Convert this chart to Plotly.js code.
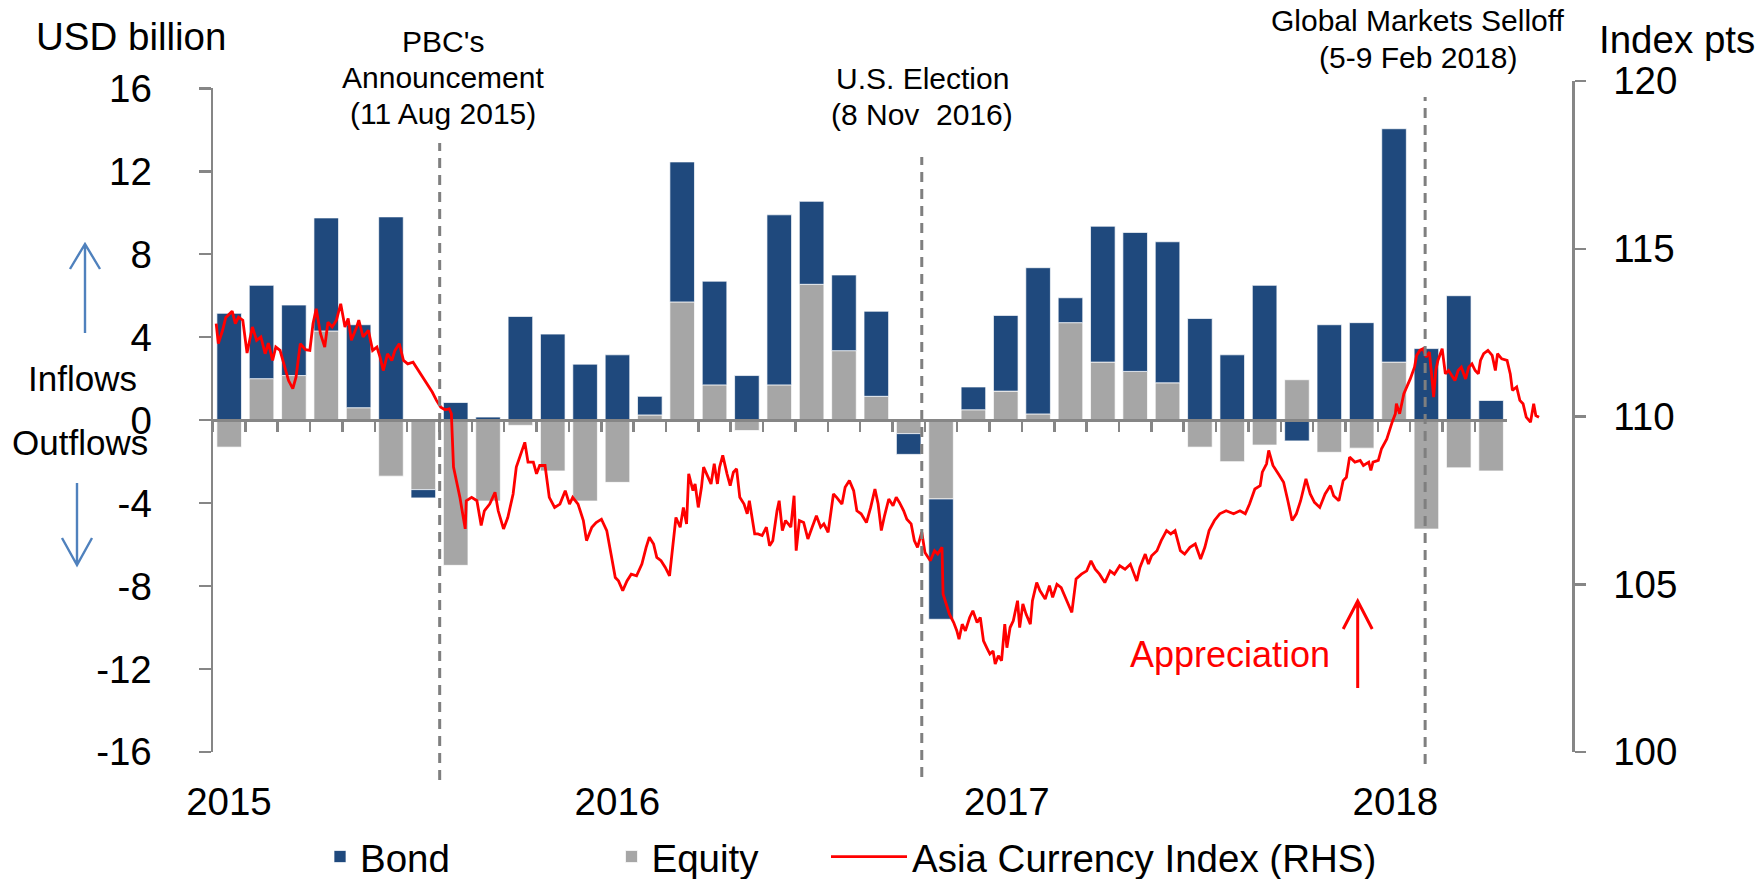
<!DOCTYPE html>
<html><head><meta charset="utf-8">
<script src="https://cdn.plot.ly/plotly-3.0.1.min.js"></script>
<style>html,body{margin:0;padding:0;background:#fff}#chart{width:1763px;height:879px}</style>
</head><body><div id="chart"></div>
<script>
// ---------- data ----------
const months = ['Jan-15','Feb-15','Mar-15','Apr-15','May-15','Jun-15','Jul-15','Aug-15','Sep-15','Oct-15','Nov-15','Dec-15',
  'Jan-16','Feb-16','Mar-16','Apr-16','May-16','Jun-16','Jul-16','Aug-16','Sep-16','Oct-16','Nov-16','Dec-16',
  'Jan-17','Feb-17','Mar-17','Apr-17','May-17','Jun-17','Jul-17','Aug-17','Sep-17','Oct-17','Nov-17','Dec-17',
  'Jan-18','Feb-18','Mar-18','Apr-18'];
const equity = [-1.3, 2.0, 2.15, 4.3, 0.6, -2.7, -3.35, -7.0, -3.9, -0.25, -2.45, -3.9,
  -3.0, 0.25, 5.7, 1.7, -0.5, 1.7, 6.55, 3.35, 1.15, -0.65, -3.8, 0.5,
  1.4, 0.3, 4.7, 2.8, 2.35, 1.8, -1.3, -2.0, -1.2, 1.95, -1.55, -1.35,
  2.8, -5.25, -2.3, -2.45];
const bond = [5.15, 4.5, 3.4, 5.45, 4.0, 9.8, -0.4, 0.85, 0.15, 5.0, 4.15, 2.7,
  3.15, 0.9, 6.75, 5.0, 2.15, 8.2, 4.0, 3.65, 4.1, -1.0, -5.8, 1.1,
  3.65, 7.05, 1.2, 6.55, 6.7, 6.8, 4.9, 3.15, 6.5, -1.0, 4.6, 4.7,
  11.25, 3.45, 6.0, 0.95];

const yearTickDates = ['2015-01-16','2016-01-16','2017-01-16','2018-01-16'];
const yearTickLabels = ['2015','2016','2017','2018'];
const leftTicks = [-16,-12,-8,-4,0,4,8,12,16];
const leftTickText = ['-16','-12','-8','-4','0','4','8','12','16'];
const rightTicks = [100,105,110,115,120];

// Asia Currency Index: days since 1 Jan 2015, index points
const lineDay = [
  3,5,9,12,18,21,24,28,32,37,
  41,45,49,52,56,59,63,67,71,75,
  78,82,87,91,94,97,101,105,108,112,
  116,120,124,127,130,135,137,141,146,150,
  154,157,160,164,168,171,175,179,183,188,
  193,197,202,206,210,214,218,222,224,226,
  230,232,237,238,243,248,252,255,260,265,
  268,273,277,282,285,288,293,296,301,304,
  307,312,316,321,326,331,335,338,343,348,
  351,356,360,365,370,374,378,381,385,389,
  393,398,403,407,410,414,417,421,425,429,
  432,435,439,442,445,447,451,453,456,459,
  461,465,468,471,474,476,479,483,486,489,
  492,495,499,502,504,509,512,516,520,523,
  526,530,532,535,538,543,546,548,551,555,
  559,563,567,571,574,578,583,586,591,594,
  598,602,605,609,614,618,622,625,628,631,
  635,639,642,645,649,652,656,659,662,666,
  669,674,678,681,685,686,689,692,696,699,
  701,704,707,711,714,718,721,724,727,730,
  733,735,738,741,744,746,749,752,756,758,
  761,764,768,770,774,777,782,786,789,793,
  797,802,807,811,816,821,825,829,833,838,
  843,847,852,857,862,868,871,876,879,882,
  887,891,896,900,904,909,913,918,923,928,
  932,936,941,946,952,959,965,970,974,979,
  984,986,990,992,996,1001,1006,1010,1014,1018,
  1022,1027,1031,1035,1040,1045,1050,1053,1058,1062,
  1065,1068,1073,1078,1081,1086,1088,1090,1095,1098,
  1103,1108,1111,1112,1115,1119,1122,1125,1129,1131,
  1134,1137,1140,1143,1145,1147,1149,1151,1155,1158,
  1161,1164,1167,1170,1173,1177,1180,1183,1186,1189,
  1191,1194,1198,1202,1205,1207,1211,1216,1219,1221,
  1225,1228,1231,1234,1238,1241,1243,1246];
const lineValue = [
  112.77,112.17,112.57,112.95,113.14,112.77,112.96,112.87,111.89,112.67,
  112.27,112.37,111.87,112.19,111.67,112.07,111.97,111.52,111.07,110.83,
  111.17,112.17,111.99,111.97,112.77,113.21,112.47,112.07,112.81,112.67,
  112.87,113.36,112.67,112.92,112.27,112.67,112.87,112.37,112.57,111.97,
  112.07,111.77,111.37,111.87,111.67,111.97,112.17,111.67,111.57,111.62,
  111.37,111.17,110.93,110.73,110.48,110.28,110.20,110.23,110.08,108.49,
  107.89,107.59,106.65,107.49,107.59,107.49,106.75,107.19,107.39,107.74,
  107.19,106.65,106.99,107.69,108.49,108.79,109.23,108.64,108.64,108.29,
  108.54,108.54,107.59,107.29,107.39,107.79,107.39,107.59,107.39,106.90,
  106.30,106.70,106.84,106.94,106.60,105.90,105.20,105.10,104.81,105.10,
  105.30,105.25,105.60,106.10,106.40,106.20,105.80,105.70,105.50,105.25,
  106.20,106.99,106.70,107.29,106.80,108.29,107.79,107.99,107.29,107.89,
  108.49,108.19,107.99,108.59,107.99,108.49,108.84,108.29,107.94,108.34,
  108.44,107.59,107.39,107.10,107.49,106.50,106.50,106.45,106.70,106.15,
  106.30,107.19,107.49,106.60,106.90,106.70,107.64,106.00,106.90,106.84,
  106.35,106.70,107.04,106.70,106.80,106.55,107.69,107.59,107.39,107.89,
  108.09,107.79,107.19,107.10,106.84,107.29,107.84,107.39,106.60,107.04,
  107.54,107.34,107.59,107.44,107.19,106.94,106.80,106.30,106.10,106.55,
  105.95,105.70,106.00,105.90,106.10,104.71,104.41,104.11,103.86,103.61,
  103.36,103.81,103.61,104.01,104.21,103.86,104.01,103.31,103.11,102.92,
  103.01,102.62,102.87,102.72,103.81,103.11,103.71,103.91,104.51,103.71,
  104.41,104.11,103.81,104.51,105.05,104.81,104.56,104.96,104.61,105.00,
  104.90,104.51,104.16,105.16,105.30,105.40,105.70,105.45,105.30,105.05,
  105.40,105.30,105.55,105.45,105.60,105.10,105.50,105.90,105.60,105.85,
  106.00,106.30,106.60,106.50,106.60,106.00,105.90,106.10,106.20,105.75,
  106.10,106.60,106.90,107.10,107.19,107.10,107.19,107.10,107.39,107.84,
  107.94,108.34,108.59,108.99,108.54,108.29,108.04,107.49,106.90,107.10,
  107.49,108.14,107.69,107.44,107.29,107.69,107.94,107.64,107.49,108.09,
  108.19,108.79,108.64,108.69,108.54,108.64,108.39,108.64,108.69,109.04,
  109.33,109.83,110.08,110.38,110.08,110.68,110.88,111.12,111.47,111.82,
  111.97,112.02,111.77,111.92,111.27,110.58,111.37,111.67,112.02,111.27,
  111.37,111.22,111.07,111.37,111.47,111.12,111.47,111.57,111.37,111.27,
  111.67,111.87,111.97,111.82,111.37,111.87,111.72,111.67,111.27,110.78,
  110.88,110.48,110.38,109.98,109.83,110.38,110.03,109.98];

const eventDates = ['2015-08-02','2016-10-28','2018-02-13'];

// ---------- helpers (layout placement only) ----------
const L = 213, R = 1572, T = 81, B = 752;
const PX = x => (x - L) / (R - L);
const PY = y => (B - y) / (B - T);
const base = Date.UTC(2015, 0, 1);
const lineDates = lineDay.map(d => new Date(base + d * 86400000).toISOString().slice(0, 10));

const FONT = 'Liberation Sans, Arial, sans-serif';
const BIG = 38.5;
const AX = '#868686';

const traces = [
  {type:'bar', name:'Equity', x:months, y:equity, xaxis:'x', yaxis:'y',
   marker:{color:'#A6A6A6', line:{color:'rgba(255,255,255,0.7)', width:1}}, legend:'legend2', hoverinfo:'skip'},
  {type:'bar', name:'Bond', x:months, y:bond, xaxis:'x', yaxis:'y',
   marker:{color:'#1F497D', line:{color:'rgba(255,255,255,0.7)', width:1}}, legend:'legend', hoverinfo:'skip'},
  {type:'scatter', mode:'lines', name:'Asia Currency Index (RHS)', x:lineDates, y:lineValue,
   xaxis:'x2', yaxis:'y2', line:{color:'#FF0000', width:2.8}, legend:'legend3', hoverinfo:'skip'}
];

function arrowPath(x, yTail, yTip, hw, hl) {
  const dir = yTip < yTail ? 1 : -1;
  const yh = yTip + dir * hl;
  return `M${PX(x)},${PY(yTail)} L${PX(x)},${PY(yTip)} M${PX(x-hw)},${PY(yh)} L${PX(x)},${PY(yTip)} L${PX(x+hw)},${PY(yh)}`;
}

const evTop = [143, 157, 97], evBot = [780, 777, 764];
const shapes = eventDates.map((d, i) => ({
  type:'line', xref:'x2', yref:'paper', x0:d, x1:d, y0:PY(evBot[i]), y1:PY(evTop[i]),
  line:{color:'#7F7F7F', width:3, dash:'10px,7px'}
}));
shapes.push({type:'path', xref:'paper', yref:'paper', path:arrowPath(85, 333, 244, 15, 25), line:{color:'#4F81BD', width:2.4}});
shapes.push({type:'path', xref:'paper', yref:'paper', path:arrowPath(77, 483, 565, 15, 27), line:{color:'#4F81BD', width:2.4}});
shapes.push({type:'path', xref:'paper', yref:'paper', path:arrowPath(1357.7, 688, 601, 14.5, 28), line:{color:'#FF0000', width:3}});

function txt(text, x, y, size, opts) {
  return Object.assign({text, x:PX(x), y:PY(y), xref:'paper', yref:'paper', showarrow:false,
    xanchor:'center', yanchor:'middle', font:{family:FONT, size, color:'#000'}}, opts || {});
}
const annotations = [
  txt('USD billion', 34, 37, BIG, {xanchor:'left'}),
  txt('Index pts', 1597, 39, BIG, {xanchor:'left'}),
  txt("PBC's", 443, 42, 30),
  txt('Announcement', 443, 77.5, 30),
  txt('(11 Aug 2015)', 443, 113.5, 30),
  txt('U.S. Election', 922, 78.5, 30),
  txt('(8 Nov  2016)', 922, 114, 30),
  txt('Global Markets Selloff', 1418, 21, 30),
  txt('(5-9 Feb 2018)', 1418, 57, 30),
  txt('Inflows', 82, 378, 35),
  txt('Outflows', 80, 442, 35),
  txt('Appreciation', 1229.5, 654, 36, {font:{family:FONT, size:36, color:'#FF0000'}})
];

const legendBase = {orientation:'h', xanchor:'left', yanchor:'middle', y:PY(857),
  bgcolor:'rgba(0,0,0,0)', borderwidth:0, font:{family:FONT, size:BIG, color:'#000'}};

const layout = {
  width:1763, height:879,
  margin:{l:L, r:1763-R, t:T, b:879-B, pad:0, autoexpand:false},
  paper_bgcolor:'#ffffff', plot_bgcolor:'rgba(0,0,0,0)',
  font:{family:FONT, size:BIG, color:'#000'},
  barmode:'relative', bargap:0.24,
  showlegend:true,
  legend:Object.assign({}, legendBase, {x:PX(320)}),
  legend2:Object.assign({}, legendBase, {x:PX(611.5)}),
  legend3:Object.assign({}, legendBase, {x:PX(826), itemwidth:76}),
  xaxis:{type:'category', domain:[0, 40/42], anchor:'free', position:PY(420),
    range:[-0.5, 39.5], showline:true, linecolor:AX, linewidth:2.5,
    ticks:'outside', tickson:'boundaries', ticklen:10, tickwidth:2.5, tickcolor:AX,
    showticklabels:false, showgrid:false, zeroline:false, fixedrange:true},
  yaxis:{domain:[0, PY(88.3)], anchor:'x', range:[-16, 16], tickmode:'array',
    tickvals:leftTicks, ticktext:leftTickText, showline:true, linecolor:AX, linewidth:2.5,
    ticks:'outside', ticklen:12, tickwidth:2.5, tickcolor:AX, ticklabelstandoff:39,
    showgrid:false, zeroline:false, tickfont:{family:FONT, size:BIG, color:'#000'}, fixedrange:true},
  xaxis2:{type:'date', domain:[0, 1], anchor:'y2', range:['2015-01-01', '2018-07-01'],
    tickmode:'array', tickvals:yearTickDates, ticktext:yearTickLabels, ticks:'',
    ticklabelstandoff:23, showline:false, showgrid:false, zeroline:false,
    tickfont:{family:FONT, size:BIG, color:'#000'}, fixedrange:true},
  yaxis2:{domain:[0, 1], anchor:'x2', side:'right', range:[100, 120], tickmode:'array',
    tickvals:rightTicks, showline:true, linecolor:AX, linewidth:2.5,
    ticks:'outside', ticklen:11, tickwidth:2.5, tickcolor:AX, ticklabelstandoff:20,
    showgrid:false, zeroline:false, tickfont:{family:FONT, size:BIG, color:'#000'}, fixedrange:true},
  shapes, annotations
};

Plotly.newPlot('chart', traces, layout, {displayModeBar:false, staticPlot:true});
</script>
</body></html>
